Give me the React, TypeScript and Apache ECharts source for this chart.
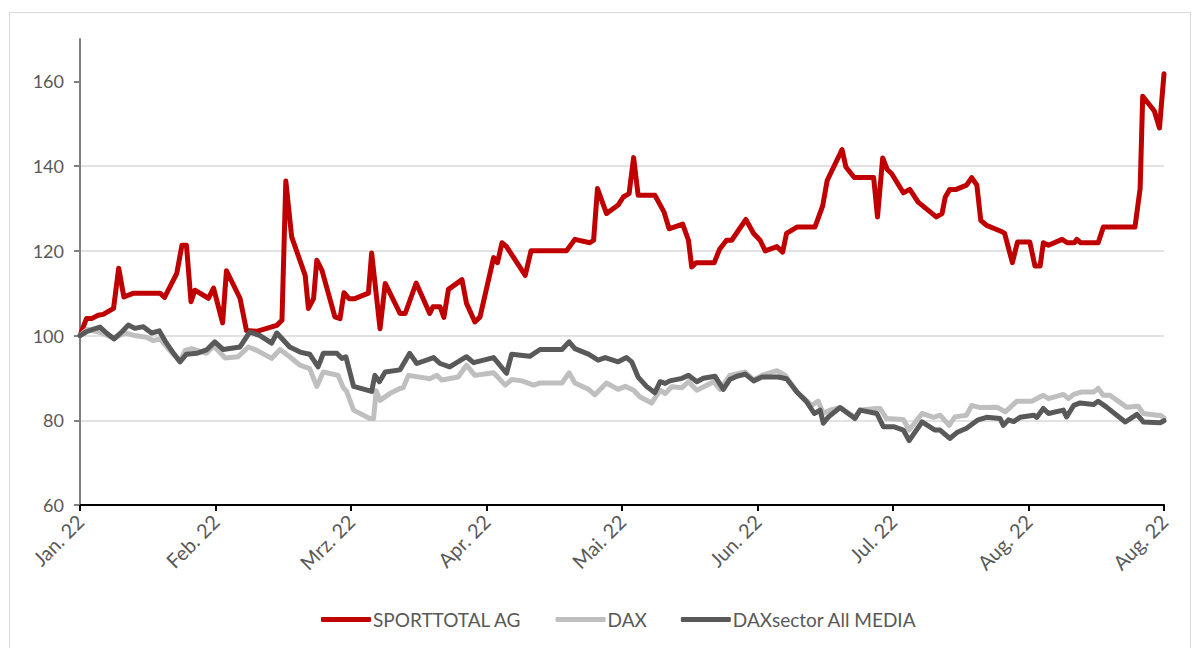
import React, { useEffect, useRef } from "react";
import * as echarts from "echarts";

const monthLabels = ["Jan. 22", "Feb. 22", "Mrz. 22", "Apr. 22", "Mai. 22", "Jun. 22", "Jul. 22", "Aug. 22", "Aug. 22"];
const daysPerLabel = 21;
const yTicks = [60, 80, 100, 120, 140, 160];

const sporttotal: [number, number][] = [
  [0, 100], [1.0, 104], [1.8, 104], [2.8, 104.8], [3.6, 105], [5.2, 106.4], [6.0, 115.9], [6.8, 109.1],
  [8.3, 110], [12.4, 110], [13.1, 109], [15.0, 114.7], [15.8, 121.3], [16.5, 121.3], [17.2, 108], [17.8, 110.7],
  [19.9, 108.8], [20.7, 111.2], [22.1, 103], [22.7, 115.3], [24.8, 108.8], [25.8, 101.2], [27.4, 101], [30.5, 102.4],
  [31.3, 103.6], [31.9, 136.5], [32.8, 123.3], [34.9, 114.2], [35.4, 106.4], [36.2, 108.7], [36.7, 117.8], [37.5, 115.4],
  [39.5, 104.4], [40.3, 104], [40.9, 110.1], [41.7, 108.7], [42.6, 108.7], [44.7, 110], [45.2, 119.5], [46.5, 101.6],
  [47.3, 112.3], [49.6, 105.2], [50.4, 105.2], [52.1, 112.4], [54.2, 105.2], [54.7, 106.8], [55.8, 106.8], [56.4, 104.3],
  [57.1, 110.9], [59.2, 113.2], [59.9, 107.6], [61.2, 103.2], [62.0, 104.4], [64.1, 118.4], [64.7, 117.2], [65.4, 121.9],
  [66.1, 121], [69.0, 114.2], [69.9, 120], [75.4, 120], [76.7, 122.7], [79.0, 121.9], [79.6, 122.5], [80.2, 134.7],
  [81.6, 128.8], [83.4, 130.8], [84.2, 132.7], [85.1, 133.5], [85.8, 142], [86.5, 133.1], [89.1, 133.1], [90.5, 129.2],
  [91.3, 125.2], [93.4, 126.3], [94.3, 122.5], [94.8, 116.2], [95.5, 117.2], [98.3, 117.2], [99.1, 120.3], [100.2, 122.5],
  [101.0, 122.5], [103.2, 127.4], [104.4, 124.1], [105.4, 122.5], [106.2, 120], [108.0, 121], [108.9, 119.7], [109.5, 124.1],
  [111.1, 125.6], [113.9, 125.6], [115.1, 130.6], [115.8, 136.6], [118.1, 143.9], [118.7, 139.8], [120.0, 137.3], [123.0, 137.3],
  [123.6, 128], [124.4, 141.9], [125.1, 139.2], [125.8, 138.2], [127.6, 133.7], [128.6, 134.5], [129.9, 131.5], [132.7, 128],
  [133.6, 128.8], [134.1, 132.7], [134.8, 134.5], [135.8, 134.5], [137.4, 135.5], [138.2, 137.3], [139.0, 135.5], [139.6, 127.2],
  [140.5, 126], [142.9, 124.5], [143.3, 124.1], [144.5, 117.2], [145.3, 122.1], [147.2, 122.1], [148.0, 116.4], [148.8, 116.4],
  [149.3, 121.9], [150.1, 121.3], [152.2, 122.7], [153.0, 121.9], [154.1, 121.9], [154.5, 122.7], [155.1, 121.9], [157.8, 121.9],
  [158.6, 125.6], [163.5, 125.6], [164.3, 134.7], [164.7, 156.5], [166.5, 153], [167.3, 149], [168, 161.8],
];

const dax: [number, number][] = [
  [0, 100], [1.2, 101.5], [3.4, 100.6], [5.2, 99.4], [7.0, 100.6], [8.5, 100], [10.3, 99.6], [11.4, 98.8],
  [12.4, 99.2], [13.9, 96.5], [15.5, 93.8], [16.3, 96.5], [17.3, 96.9], [19.6, 95.8], [20.7, 97.6], [22.5, 94.7],
  [24.5, 95], [26.1, 97.3], [27.4, 96.5], [29.7, 94.6], [31.0, 96.7], [32.5, 95], [34.1, 93], [35.6, 92.2],
  [36.7, 88], [37.7, 91.4], [40.0, 90.6], [40.8, 87.7], [41.3, 86.9], [42.4, 82.4], [44.9, 80.4], [45.5, 80.4],
  [45.9, 87], [46.5, 84.7], [48.0, 86.3], [49.6, 87.5], [50.1, 87.7], [50.9, 90.6], [54.2, 89.8], [55.3, 90.6],
  [56.1, 89.5], [58.6, 90.2], [59.9, 93], [61.2, 90.6], [64.1, 91.2], [65.9, 88.3], [66.9, 89.6], [68.5, 89.3],
  [70.3, 88.3], [71.3, 88.8], [74.7, 88.8], [75.8, 91.2], [76.7, 88.8], [78.8, 87.3], [79.8, 86], [81.6, 88.8],
  [83.4, 87.3], [84.5, 88], [85.8, 87.1], [86.8, 85.5], [88.6, 84.1], [89.9, 87.1], [90.7, 86.3], [91.7, 87.9],
  [93.3, 87.7], [94.3, 89.1], [95.6, 87.1], [98.2, 89.1], [99.2, 87.3], [100.7, 90.6], [103.1, 91.4], [104.4, 89.5],
  [105.7, 90.6], [108.0, 91.7], [109.3, 90.6], [111.1, 86.7], [113.4, 83.5], [114.4, 84.5], [115.2, 81.6], [116.2, 82.4],
  [117.8, 83], [120.1, 80.7], [120.9, 82.4], [123.5, 82.8], [124.0, 82.8], [125.0, 80.4], [127.6, 80.2], [128.5, 77.7],
  [130.5, 81.6], [132.3, 80.7], [133.3, 81.2], [134.7, 78.8], [135.6, 80.8], [137.4, 81.2], [138.2, 83.5], [139.5, 83],
  [142.1, 83.1], [143.4, 82], [145.2, 84.5], [147.5, 84.5], [149.3, 85.9], [150.1, 85.1], [152.4, 86.1], [153.2, 85.1],
  [154.0, 86.1], [155.3, 86.7], [157.1, 86.7], [157.8, 87.5], [158.6, 85.9], [159.6, 85.9], [162.2, 83.1], [164.0, 83.3],
  [164.8, 81.6], [166.9, 81.2], [167.4, 81.2], [168, 80.6],
];

const daxMedia: [number, number][] = [
  [0, 100], [1.0, 100.9], [2.1, 101.5], [3.1, 102], [4.1, 100.6], [5.3, 99.2], [6.5, 100.9], [7.5, 102.5],
  [8.5, 101.7], [9.8, 102.1], [11.1, 100.6], [12.3, 101.1], [13.4, 98.2], [14.5, 95.8], [15.5, 93.8], [16.5, 95.6],
  [18.1, 95.8], [19.6, 96.6], [20.9, 98.5], [22.2, 96.7], [24.8, 97.3], [26.3, 100.8], [27.9, 100], [29.7, 98.2],
  [30.5, 100.6], [32.5, 97.3], [34.1, 96.1], [35.6, 95.6], [36.9, 92.6], [37.7, 95.8], [39.8, 95.8], [40.6, 94.6],
  [41.2, 95], [42.4, 88], [45.2, 86.8], [45.7, 90.6], [46.4, 89.1], [47.3, 91.4], [49.6, 91.9], [51.1, 95.8],
  [52.2, 93.4], [54.8, 94.8], [55.8, 93.4], [57.3, 92.6], [59.9, 95], [61.0, 93.6], [64.1, 94.8], [66.1, 91.1],
  [66.9, 95.6], [69.7, 95.1], [71.3, 96.7], [74.7, 96.7], [75.8, 98.5], [76.7, 96.9], [78.8, 95.6], [80.3, 94.2],
  [81.4, 94.8], [83.4, 93.8], [84.7, 94.8], [85.5, 93.8], [86.5, 90.2], [87.8, 88], [89.1, 86.5], [89.9, 89.1],
  [90.7, 88.7], [91.4, 89.3], [93.3, 89.9], [94.3, 90.6], [95.6, 89.1], [96.6, 89.9], [98.4, 90.4], [99.7, 87.3],
  [100.7, 89.6], [101.8, 90.4], [103.1, 90.9], [104.4, 89.3], [105.7, 90.2], [108.2, 90.2], [109.5, 89.8], [111.1, 86.7],
  [112.6, 84.4], [113.8, 81.6], [114.7, 82.4], [115.2, 79.3], [116.0, 80.8], [117.8, 83], [120.1, 80.4], [120.9, 82.4],
  [123.5, 81.6], [124.5, 78.5], [126.1, 78.5], [127.6, 77.7], [128.5, 75.2], [130.5, 79.6], [132.5, 77.7], [133.3, 77.7],
  [134.8, 75.7], [135.9, 77.1], [137.4, 78.1], [139.2, 80.1], [140.5, 80.7], [142.6, 80.4], [143.1, 78.8], [143.9, 80.1],
  [144.7, 79.7], [145.7, 80.7], [147.8, 81.2], [148.3, 80.7], [149.3, 82.8], [150.1, 81.6], [152.4, 82.4], [152.9, 80.8],
  [154.0, 83.5], [155.0, 84.1], [157.1, 83.7], [157.8, 84.5], [159.1, 83.1], [162.0, 79.6], [163.8, 81.4], [164.8, 79.6],
  [167.4, 79.4], [168, 79.9],
];

const FONT = "Lato";

export default function App() {
  const ref = useRef<HTMLDivElement>(null);
  useEffect(() => {
    if (!ref.current) return;
    const chart = echarts.init(ref.current, undefined, { renderer: "svg" });
    const mkLine = (name: string, data: [number, number][], color: string) => ({
      name,
      type: "line",
      data,
      showSymbol: false,
      symbol: "none",
      clip: false,
      lineStyle: { color, width: 5, join: "round", cap: "round" },
      itemStyle: { color },
    });
    chart.setOption({
      animation: false,
      backgroundColor: "#ffffff",
      grid: { left: 80, right: 36, top: 39, bottom: 143, containLabel: false, outerBoundsMode: "none" },
      xAxis: {
        type: "value",
        min: 0,
        max: daysPerLabel * (monthLabels.length - 1),
        interval: daysPerLabel,
        axisLine: { show: true, onZero: false, lineStyle: { color: "#000000", width: 2 } },
        axisTick: { show: true, inside: false, length: 6, lineStyle: { color: "#000000", width: 2 } },
        splitLine: { show: false },
        axisLabel: {
          rotate: 45,
          margin: 13,
          color: "#595959",
          fontFamily: FONT,
          fontSize: 20,
          hideOverlap: false,
          formatter: (v: number) => monthLabels[Math.round(v / daysPerLabel)] ?? "",
        },
      },
      yAxis: {
        type: "value",
        min: 60,
        max: 170,
        interval: 20,
        axisLine: { show: true, lineStyle: { color: "#808080", width: 2 } },
        axisTick: { show: true, inside: false, length: 6, lineStyle: { color: "#808080", width: 2 }, customValues: yTicks },
        splitLine: { show: true, showMinLine: false, showMaxLine: false, lineStyle: { color: "#d9d9d9", width: 1.5 } },
        axisLabel: {
          margin: 16,
          color: "#595959",
          fontFamily: FONT,
          fontSize: 18,
          customValues: yTicks,
          formatter: (v: number) => (yTicks.includes(v) ? String(v) : ""),
        },
      },
      legend: {
        bottom: 14,
        left: 316,
        icon: "roundRect",
        itemWidth: 50,
        itemHeight: 5,
        itemGap: 34,
        textStyle: { color: "#595959", fontFamily: FONT, fontSize: 19, padding: [0, 0, 0, -3] },
        data: ["SPORTTOTAL AG", "DAX", "DAXsector All MEDIA"],
      },
      series: [
        mkLine("SPORTTOTAL AG", sporttotal, "#c00000"),
        mkLine("DAX", dax, "#bfbfbf"),
        mkLine("DAXsector All MEDIA", daxMedia, "#595959"),
      ],
    });
    return () => chart.dispose();
  }, []);
  return (
    <div style={{ position: "fixed", left: 0, top: 0, width: 1200, height: 648, background: "#fff", overflow: "hidden" }}>
      <div ref={ref} style={{ position: "absolute", left: 0, top: 0, width: 1200, height: 648 }} />
      <div
        style={{
          position: "absolute",
          left: 9,
          top: 12,
          width: 1180,
          height: 700,
          border: "1.5px solid #d9d9d9",
          pointerEvents: "none",
        }}
      />
    </div>
  );
}
